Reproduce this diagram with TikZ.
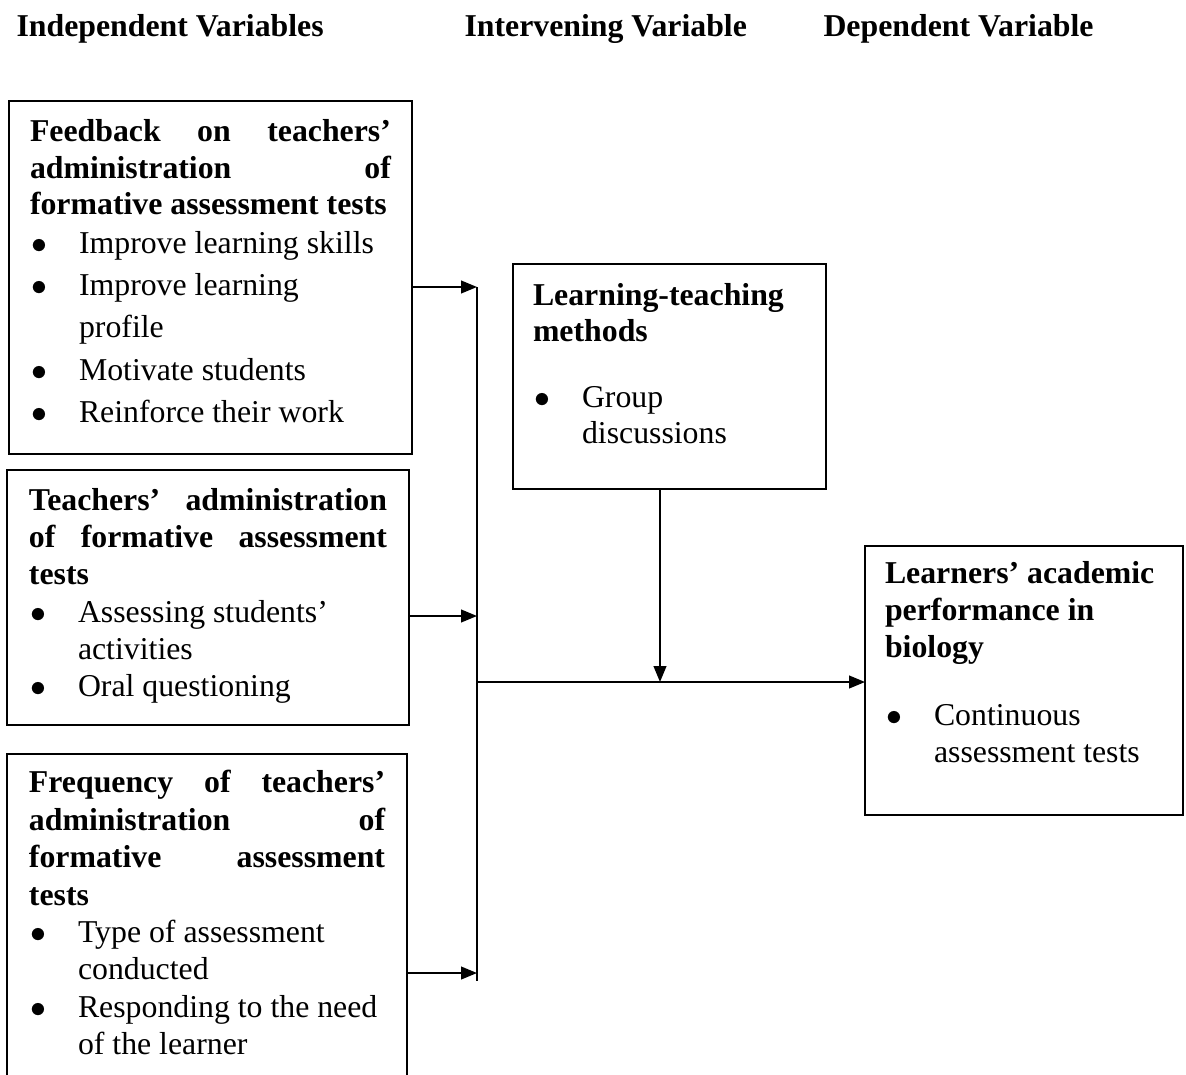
\documentclass[tikz,border=0pt]{standalone}
\usepackage{fontspec}
\setmainfont{Liberation Serif}
\usepackage{tikz}
\usetikzlibrary{arrows.meta}

% box contents: height, text width, text
\newcommand{\boxtext}[3]{\parbox[c][#1][t]{#2}{\raggedright\fontsize{12}{14.1}\selectfont#3}}
% one bullet item with hanging indent
\newcommand{\bul}[1]{\par\hangindent=18.5pt\hangafter=1\noindent\makebox[18.5pt][l]{\hspace{0.4pt}$\bullet$}#1}

\begin{document}
\begin{tikzpicture}[x=0.3774pt,y=-0.3774pt,
  varbox/.style={draw,line width=0.87pt,anchor=north west,inner ysep=0pt,outer sep=0pt},
  head/.style={anchor=base west,inner sep=0pt,font=\fontsize{12}{14.1}\selectfont\bfseries},
  arr/.style={line width=0.63pt,-{Triangle[length=6pt,width=4.8pt]}},
  bus/.style={line width=0.63pt}]
\useasboundingbox (0,0) rectangle (1186,1074);
\clip (0,0) rectangle (1186,1074);
% column titles
\node[head] (hind) at (16,36) {Independent Variables};
\node[head] (hint) at (464,36) {Intervening Variable};
\node[head] (hdep) at (823,36) {Dependent Variable};
% independent variables
\node[varbox,inner xsep=7.93pt] (fb) at (9,101) {\boxtext{133.2pt}{136.2pt}{%
  \setlength{\baselineskip}{13.7pt}%
  \rule{0pt}{15.4pt}\textbf{Feedback\hfill on\hfill teachers’\newline
  administration\hfill of\newline formative assessment tests}\par
  \setlength{\baselineskip}{16pt}\vspace{-1.4pt}%
  \bul{Improve learning skills}
  \bul{Improve learning\newline profile}
  \bul{Motivate students}
  \bul{Reinforce their work}}};
\node[varbox,inner xsep=8.3pt] (adm) at (7,470) {\boxtext{96.2pt}{135.1pt}{%
  \rule{0pt}{15.1pt}\textbf{Teachers’\hfill administration\newline
  of\hfill formative\hfill assessment\newline tests}
  \bul{Assessing students’\newline activities}
  \bul{Oral questioning}}};
\node[varbox,inner xsep=8.3pt] (freq) at (7,754) {\boxtext{126.8pt}{134.4pt}{%
  \rule{0pt}{14.7pt}\textbf{Frequency\hfill of\hfill teachers’\newline
  administration\hfill of\newline formative\hfill assessment\newline tests}
  \bul{Type of assessment\newline conducted}
  \bul{Responding to the need\newline of the learner}}};
% intervening variable
\node[varbox,inner xsep=7.55pt] (ltm) at (513,264) {\boxtext{84.9pt}{103pt}{%
  \setlength{\baselineskip}{13.6pt}%
  \rule{0pt}{15.5pt}\textbf{Learning-teaching\newline methods}\par
  \vspace{11.3pt}%
  \bul{Group\newline discussions}}};
% dependent variable
\node[varbox,inner xsep=7.55pt] (perf) at (865,546) {\boxtext{101.5pt}{104.9pt}{%
  \setlength{\baselineskip}{14pt}%
  \rule{0pt}{14pt}\textbf{Learners’ academic\newline performance in\newline biology}\par
  \vspace{11.7pt}%
  \bul{Continuous\newline assessment tests}}};
% connectors
\coordinate (bt) at (477,287);
\coordinate (bb) at (477,981);
\coordinate (b2) at (477,616);
\coordinate (b3) at (477,973);
\coordinate (bm) at (477,682);
\coordinate (dm) at (660,682);
\draw[bus] (bt) -- (bb);
\draw[arr] (fb.east |- bt) -- (bt);
\draw[arr] (adm.east |- b2) -- (b2);
\draw[arr] (freq.east |- b3) -- (b3);
\draw[arr] (ltm.south -| dm) -- (dm);
\draw[arr] (bm) -- (bm -| perf.west);
\end{tikzpicture}
\end{document}
